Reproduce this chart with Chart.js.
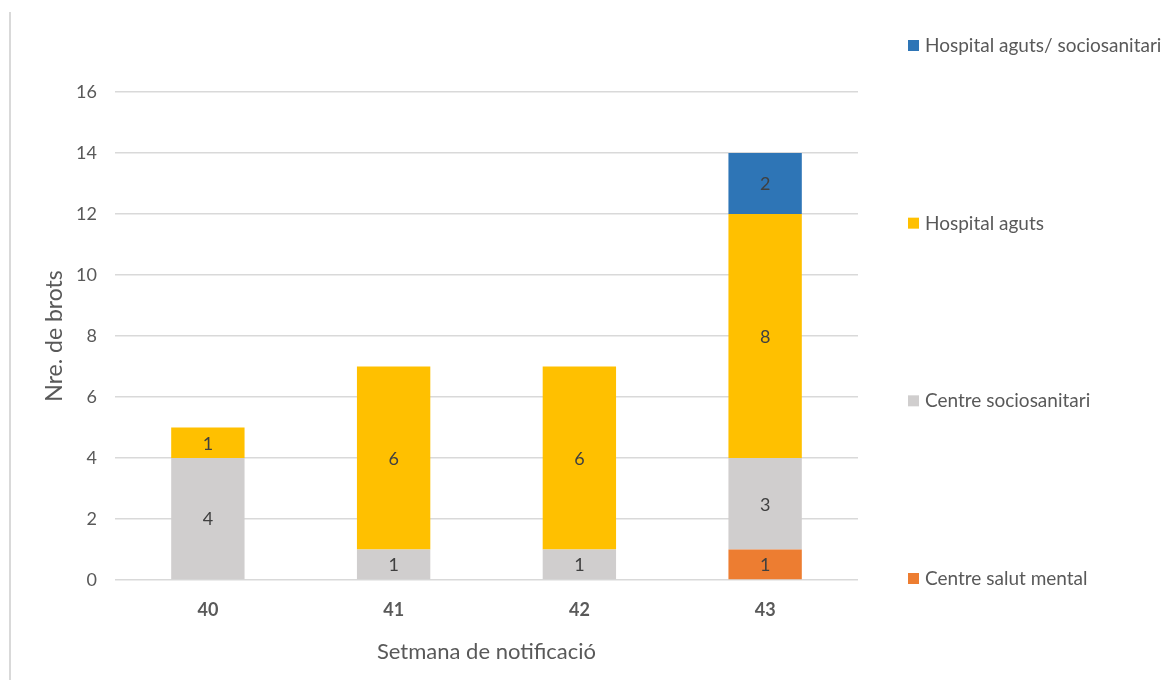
<!DOCTYPE html>
<html>
<head>
<meta charset="utf-8">
<script src="https://cdn.jsdelivr.net/npm/chart.js@4/dist/chart.umd.min.js"></script>
<style>
    html, body { margin: 0; padding: 0; background: #fff; }
    #wrap { width: 1170px; height: 680px; }
</style>
</head>
<body>
<div id="wrap"><canvas id="bar_chart" width="1170" height="680"></canvas></div>
<script>
var weeks = ['40', '41', '42', '43'];
var seriesNames = ['Centre salut mental', 'Centre sociosanitari', 'Hospital aguts', 'Hospital aguts/ sociosanitari'];
var salutMental = [0, 0, 0, 1];
var sociosanitari = [4, 1, 1, 3];
var hospitalAguts = [1, 6, 6, 8];
var agutsSocio = [0, 0, 0, 2];
var seriesColors = ['#ED7D31', '#D0CECE', '#FFC000', '#2E75B6'];
var yMax = 16;
var yStep = 2;

var FONT = 'Lato, "Open Sans", sans-serif';

// etiquetes dins de cada segment
var valueLabels = {
    id: 'valueLabels',
    afterDatasetsDraw: function (chart) {
        var ctx = chart.ctx;
        ctx.save();
        ctx.fillStyle = '#404040';
        ctx.font = '18px ' + FONT;
        ctx.textAlign = 'center';
        ctx.textBaseline = 'middle';
        chart.data.datasets.forEach(function (ds, i) {
            chart.getDatasetMeta(i).data.forEach(function (bar, j) {
                if (!ds.data[j]) { return }
                var p = bar.getCenterPoint();
                ctx.fillText(ds.data[j], p.x, p.y + 1);
            });
        });
        ctx.restore();
    }
};

// llegenda a la dreta, repartida en vertical
var sideLegend = {
    id: 'sideLegend',
    afterDraw: function (chart) {
        var ctx = chart.ctx;
        var area = chart.chartArea;
        var sets = chart.data.datasets;
        var top = 46, bottom = area.bottom - 1;
        var gap = (bottom - top) / (sets.length - 1);
        ctx.save();
        ctx.font = '19px ' + FONT;
        ctx.textBaseline = 'middle';
        ctx.textAlign = 'left';
        for (var k = 0; k < sets.length; k++) {
            var ds = sets[sets.length - 1 - k];
            var y = top + k * gap;
            ctx.fillStyle = ds.backgroundColor;
            ctx.fillRect(908, y - 6, 11, 11);
            ctx.fillStyle = '#595959';
            ctx.fillText(ds.label, 925, y);
        }
        // linia vertical de la vora esquerra
        ctx.fillStyle = '#d9d9d9';
        ctx.fillRect(9, 12, 2, 668);
        ctx.restore();
    }
};

var chartCfg = {
    type: 'bar',
    data: {
        labels: weeks,
        datasets: [
            { label: seriesNames[0], data: salutMental, backgroundColor: seriesColors[0] },
            { label: seriesNames[1], data: sociosanitari, backgroundColor: seriesColors[1] },
            { label: seriesNames[2], data: hospitalAguts, backgroundColor: seriesColors[2] },
            { label: seriesNames[3], data: agutsSocio, backgroundColor: seriesColors[3] }
        ]
    },
    options: {
        responsive: false,
        animation: false,
        layout: { padding: { left: 20, right: 312, top: 92, bottom: 0 } },
        datasets: {
            bar: { categoryPercentage: 1, barPercentage: 0.395, borderWidth: 0 }
        },
        plugins: {
            legend: { display: false },
            tooltip: { enabled: false }
        },
        scales: {
            x: {
                stacked: true,
                grid: { display: false },
                border: { display: false },
                ticks: {
                    color: '#595959',
                    font: { family: FONT, size: 18, weight: 'bold' },
                    padding: 11
                },
                title: {
                    display: true,
                    text: 'Setmana de notificació',
                    color: '#595959',
                    font: { family: FONT, size: 22 },
                    padding: { top: 4, bottom: 15 }
                },
                afterFit: function (scale) { scale.height = 100 }
            },
            y: {
                stacked: true,
                min: 0,
                max: yMax,
                grid: { color: '#d9d9d9', lineWidth: 1.5, drawTicks: false },
                border: { display: false },
                ticks: {
                    stepSize: yStep,
                    color: '#595959',
                    font: { family: FONT, size: 18 },
                    padding: 18
                },
                title: {
                    display: true,
                    text: 'Nre. de brots',
                    color: '#595959',
                    font: { family: FONT, size: 23 },
                    padding: { top: 21, bottom: 4 }
                },
                afterFit: function (scale) { scale.width = 95 }
            }
        }
    },
    plugins: [valueLabels, sideLegend]
};

new Chart(document.getElementById('bar_chart').getContext('2d'), chartCfg);
</script>
</body>
</html>
